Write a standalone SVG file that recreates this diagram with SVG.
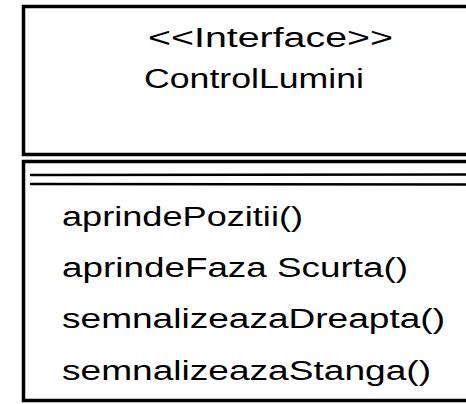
<svg xmlns="http://www.w3.org/2000/svg" width="466" height="404" viewBox="0 0 466 404">
<style>
.box{fill:#fff;stroke:#000;stroke-width:3.5}
.sep{fill:none;stroke:#000;stroke-width:2.5;stroke-linecap:round}
.t{font-family:"Liberation Sans","DejaVu Sans",sans-serif;font-size:27px;fill:#000}
</style>
<rect width="466" height="404" fill="#fff"/>
<g id="header">
<rect class="box" x="23.5" y="6.5" width="470" height="148"/>
<text class="t" x="148" y="47" textLength="245" lengthAdjust="spacingAndGlyphs">&lt;&lt;Interface&gt;&gt;</text>
<text class="t" x="144" y="88" textLength="220" lengthAdjust="spacingAndGlyphs">ControlLumini</text>
</g>
<g id="methods">
<rect class="box" x="23.5" y="161.5" width="470" height="239"/>
<path class="sep" d="M31 175 L480 174.5"/>
<path class="sep" d="M31 184 L480 184.5"/>
<text class="t" x="62" y="226" textLength="241" lengthAdjust="spacingAndGlyphs">aprindePozitii()</text>
<text class="t" x="62" y="277" textLength="346" lengthAdjust="spacingAndGlyphs">aprindeFaza Scurta()</text>
<text class="t" x="62" y="328" textLength="383" lengthAdjust="spacingAndGlyphs">semnalizeazaDreapta()</text>
<text class="t" x="62" y="380" textLength="369" lengthAdjust="spacingAndGlyphs">semnalizeazaStanga()</text>
</g>
<g id="connectors"></g>
</svg>
